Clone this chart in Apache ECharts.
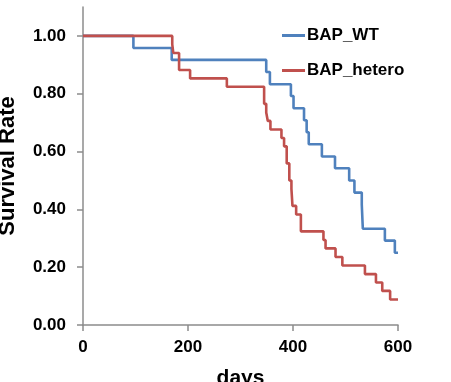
<!DOCTYPE html>
<html>
<head>
<meta charset="utf-8">
<script src="https://cdn.jsdelivr.net/npm/echarts@6/dist/echarts.min.js"></script>
<style>html,body{margin:0;padding:0;background:#fff;}#c{width:451px;height:382px;}</style>
</head>
<body>
<div id="c"></div>
<script>
const wtDays = [0, 96, 169, 349, 356, 396, 401, 421, 426, 430, 455, 480, 507, 517, 531, 533, 575, 594, 600];
const wtSurv = [1.0, 0.958, 0.917, 0.875, 0.833, 0.792, 0.75, 0.708, 0.667, 0.625, 0.583, 0.542, 0.5, 0.458, 0.417, 0.333, 0.292, 0.25, 0.25];
const hetDays = [0, 170, 172, 183, 204, 274, 345, 349, 352, 357, 378, 383, 388, 393, 397, 399, 406, 415, 458, 462, 481, 494, 537, 558, 570, 585, 600];
const hetSurv = [1.0, 0.971, 0.941, 0.882, 0.853, 0.824, 0.765, 0.735, 0.706, 0.676, 0.647, 0.618, 0.559, 0.5, 0.471, 0.412, 0.382, 0.324, 0.294, 0.265, 0.235, 0.206, 0.176, 0.147, 0.118, 0.088, 0.088];
const xTicks = [0, 200, 400, 600];
const yTicks = [0, 0.2, 0.4, 0.6, 0.8, 1.0];
const seriesNames = ['BAP_WT', 'BAP_hetero'];

const font = 'Liberation Sans, Arial, sans-serif';
const zip = (a, b) => a.map((v, i) => [v, b[i]]);
const chart = echarts.init(document.getElementById('c'), null, {renderer: 'canvas'});
chart.setOption({
  animation: false,
  grid: {left: 83, right: 53, top: 7, bottom: 57, containLabel: false, outerBoundsMode: 'none'},
  legend: {
    orient: 'vertical', left: 277, top: 22, icon: 'rect', itemWidth: 23, itemHeight: 3,
    itemGap: 18,
    textStyle: {fontFamily: font, fontWeight: 'bold', fontSize: 17, color: '#000', padding: [0, 0, 0, -3]},
    data: seriesNames
  },
  xAxis: {
    type: 'value', min: 0, max: 600, interval: 200,
    name: 'days', nameLocation: 'middle', nameGap: 43,
    nameTextStyle: {fontFamily: font, fontWeight: 'bold', fontSize: 21, color: '#000'},
    axisLine: {lineStyle: {color: '#8c8c8c', width: 1.5}},
    axisTick: {show: true, inside: false, length: 6, lineStyle: {color: '#8c8c8c', width: 1.5}, customValues: xTicks},
    axisLabel: {fontFamily: font, fontWeight: 'bold', fontSize: 17, color: '#000', margin: 14, customValues: xTicks},
    splitLine: {show: false}
  },
  yAxis: {
    type: 'value', min: 0, max: 1.1, interval: 0.2,
    name: 'Survival Rate', nameLocation: 'middle', nameGap: 64, nameRotate: 90,
    nameTextStyle: {fontFamily: font, fontWeight: 'bold', fontSize: 22, color: '#000'},
    axisLine: {show: true, lineStyle: {color: '#8c8c8c', width: 1.5}},
    axisTick: {show: true, inside: false, length: 6, lineStyle: {color: '#8c8c8c', width: 1.5}, customValues: yTicks},
    axisLabel: {fontFamily: font, fontWeight: 'bold', fontSize: 17, color: '#000', margin: 17,
      customValues: yTicks, formatter: v => v.toFixed(2)},
    splitLine: {show: false}
  },
  series: [
    {name: seriesNames[0], type: 'line', step: 'end', symbol: 'none', data: zip(wtDays, wtSurv),
      lineStyle: {color: '#4F81BD', width: 2.6}, itemStyle: {color: '#4F81BD'}},
    {name: seriesNames[1], type: 'line', step: 'end', symbol: 'none', data: zip(hetDays, hetSurv),
      lineStyle: {color: '#C0504D', width: 2.6}, itemStyle: {color: '#C0504D'}}
  ]
});
</script>
</body>
</html>
